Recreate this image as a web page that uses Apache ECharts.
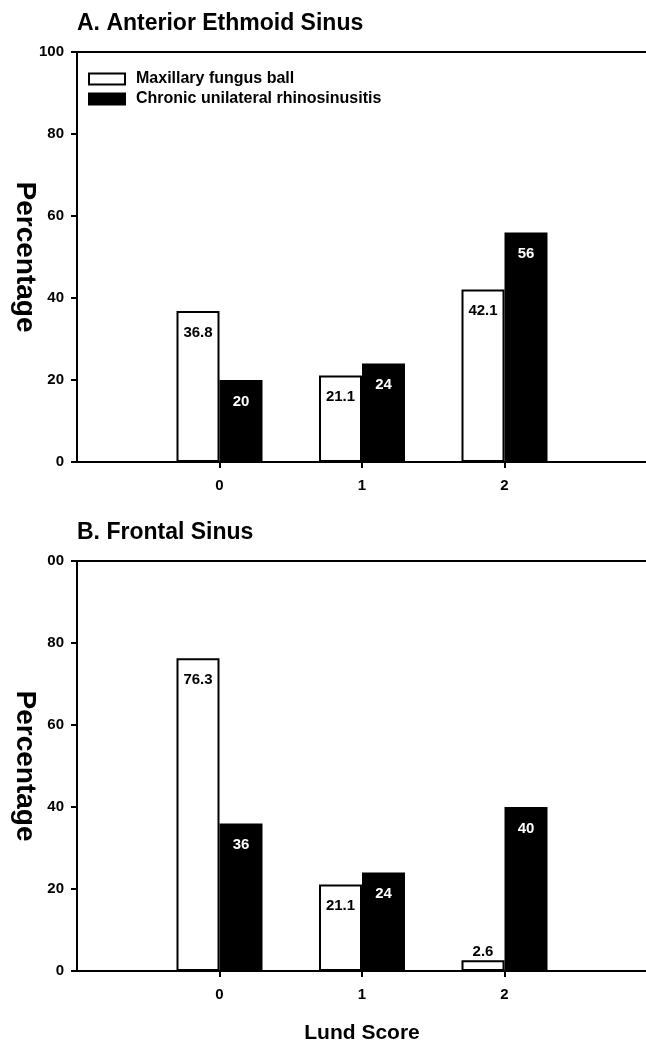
<!DOCTYPE html>
<html>
<head>
<meta charset="utf-8">
<script src="https://cdn.jsdelivr.net/npm/echarts@6/dist/echarts.min.js"></script>
<style>
html,body{margin:0;padding:0;background:#fff;}
#chart{width:646px;height:1041px;}
</style>
</head>
<body>
<div id="chart"></div>
<script>
const categories = ['', '0', '1', '2', ''];
const seriesNames = ['Maxillary fungus ball', 'Chronic unilateral rhinosinusitis'];
const ethmoidFungus = [36.8, 21.1, 42.1];
const ethmoidChronic = [20, 24, 56];
const frontalFungus = [76.3, 21.1, 2.6];
const frontalChronic = [36, 24, 40];
const yTicksA = ['0', '20', '40', '60', '80', '100'];
const yTicksB = ['0', '20', '40', '60', '80', '00'];
const titles = ['A. Anterior Ethmoid Sinus', 'B. Frontal Sinus'];
const yName = 'Percentage';
const xName = 'Lund Score';

const FONT = '"Liberation Sans", Arial, sans-serif';
const chart = echarts.init(document.getElementById('chart'), null, {renderer: 'canvas'});

function pad(vals) { return [null].concat(vals, [null]); }

const gridTops = [52, 561];
const plotH = 410;

function yAxis(gi, labels) {
  return {
    type: 'value', gridIndex: gi, min: 0, max: 100, interval: 20,
    name: yName, nameLocation: 'middle', nameRotate: -90, nameGap: 38, nameMoveOverlap: false,
    nameTextStyle: {fontFamily: FONT, fontWeight: 'bold', fontSize: 28, color: '#000'},
    axisLine: {show: true, lineStyle: {color: '#000', width: 2}},
    axisTick: {show: true, length: 6, lineStyle: {color: '#000', width: 2}},
    axisLabel: {fontFamily: FONT, fontWeight: 'bold', fontSize: 15, color: '#000', margin: 13,
      formatter: function (v) { return labels[Math.round(v / 20)]; }},
    splitLine: {show: false}
  };
}
function xAxis(gi, withName) {
  return {
    type: 'category', gridIndex: gi, data: categories, boundaryGap: false,
    name: withName ? xName : '', nameLocation: 'middle', nameGap: 52, nameMoveOverlap: false,
    nameTextStyle: {fontFamily: FONT, fontWeight: 'bold', fontSize: 21, color: '#000'},
    axisLine: {show: true, lineStyle: {color: '#000', width: 2}},
    axisTick: {show: true, length: 6, alignWithLabel: true, lineStyle: {color: '#000', width: 2},
      interval: function (i) { return i >= 1 && i <= 3; }},
    axisLabel: {fontFamily: FONT, fontWeight: 'bold', fontSize: 15, color: '#000', margin: 16,
      interval: 0},
    splitLine: {show: false}
  };
}
function topAxis(gi) {
  return {
    type: 'category', gridIndex: gi, position: 'top', data: categories, boundaryGap: false,
    axisLine: {show: true, lineStyle: {color: '#000', width: 2}},
    axisTick: {show: false}, axisLabel: {show: false}, splitLine: {show: false}
  };
}
function barSeries(name, vals, xi, yi, dark) {
  return {
    type: 'bar', name: name, xAxisIndex: xi, yAxisIndex: yi,
    barWidth: 43, barGap: '0%',
    data: pad(vals).map(function (v) {
      if (v === null) return null;
      return v < 8 ? {value: v, label: {position: 'top', distance: 1}} : v;
    }),
    itemStyle: {color: dark ? '#000' : '#fff', borderColor: '#000', borderWidth: 2},
    label: {show: true, position: 'insideTop', distance: 14, fontFamily: FONT, fontWeight: 'bold',
      fontSize: 15, color: dark ? '#fff' : '#000'},
    silent: true, animation: false
  };
}

const option = {
  animation: false,
  backgroundColor: '#fff',
  title: [
    {text: titles[0], left: 72, top: 7, textStyle: {fontFamily: FONT, fontWeight: 'bold', fontSize: 23, color: '#000'}},
    {text: titles[1], left: 72, top: 516, textStyle: {fontFamily: FONT, fontWeight: 'bold', fontSize: 23, color: '#000'}}
  ],
  legend: {
    orient: 'vertical', left: 83, top: 66, itemWidth: 36, itemHeight: 11, itemGap: 4,
    icon: 'rect',
    textStyle: {fontFamily: FONT, fontWeight: 'bold', fontSize: 16, lineHeight: 16, color: '#000', padding: [0, 0, 0, 6]},
    data: seriesNames
  },
  grid: [
    {left: 77, right: -1, top: gridTops[0], height: plotH, containLabel: false, outerBoundsMode: 'none'},
    {left: 77, right: -1, top: gridTops[1], height: plotH, containLabel: false, outerBoundsMode: 'none'}
  ],
  xAxis: [xAxis(0, false), xAxis(1, true), topAxis(0), topAxis(1)],
  yAxis: [yAxis(0, yTicksA), yAxis(1, yTicksB)],
  series: [
    barSeries(seriesNames[0], ethmoidFungus, 0, 0, false),
    barSeries(seriesNames[1], ethmoidChronic, 0, 0, true),
    barSeries(seriesNames[0], frontalFungus, 1, 1, false),
    barSeries(seriesNames[1], frontalChronic, 1, 1, true)
  ]
};
chart.setOption(option);
</script>
</body>
</html>
